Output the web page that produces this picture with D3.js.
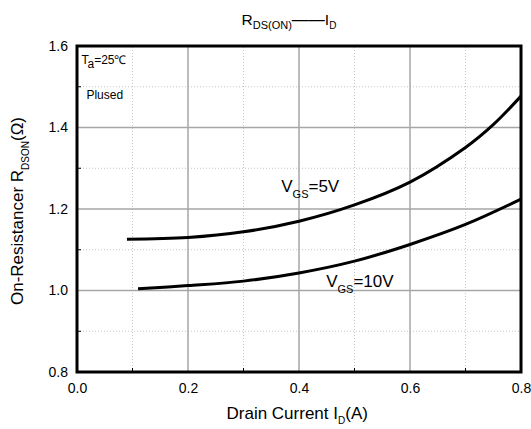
<!DOCTYPE html>
<html>
<head>
<meta charset="utf-8">
<script src="https://cdn.jsdelivr.net/npm/d3@7"></script>
<style>
  body { margin: 0; background: #fff; }
  svg { display: block; font-family: "Liberation Sans", Arial, sans-serif; }
</style>
</head>
<body>
<div id="chart"></div>
<script>
// curve readings, Id in A, Rds(on) in ohm
const id5 = [0.09, 0.2, 0.3, 0.4, 0.5, 0.6, 0.7, 0.75, 0.8];
const r5 = [1.126, 1.130, 1.144, 1.170, 1.210, 1.266, 1.351, 1.407, 1.477];
const id10 = [0.11, 0.2, 0.3, 0.4, 0.5, 0.6, 0.7, 0.8];
const r10 = [1.004, 1.012, 1.023, 1.043, 1.072, 1.113, 1.162, 1.224];

const xTicks = [0, 0.2, 0.4, 0.6, 0.8];
const yTicks = [0.8, 1.0, 1.2, 1.4, 1.6];
const xMinor = [0.1, 0.3, 0.5, 0.7];
const yMinor = [0.9, 1.1, 1.3, 1.5];

const width = 531, height = 429;
const margin = { top: 46, right: 10, bottom: 57, left: 77 };

const svg = d3.select("#chart").append("svg")
  .attr("width", width)
  .attr("height", height);

const x = d3.scaleLinear().domain([0, 0.8]).range([margin.left, width - margin.right]);
const y = d3.scaleLinear().domain([0.8, 1.6]).range([height - margin.bottom, margin.top]);

// minor dotted grid
svg.append("g").selectAll("line.vx")
  .data(xMinor).join("line")
  .attr("x1", d => x(d)).attr("x2", d => x(d))
  .attr("y1", y(0.8)).attr("y2", y(1.6))
  .attr("stroke", "#c4c4c4").attr("stroke-width", 1).attr("stroke-dasharray", "1,2");
svg.append("g").selectAll("line.hy")
  .data(yMinor).join("line")
  .attr("x1", x(0)).attr("x2", x(0.8))
  .attr("y1", d => y(d)).attr("y2", d => y(d))
  .attr("stroke", "#c4c4c4").attr("stroke-width", 1).attr("stroke-dasharray", "1,2");

// major grid
svg.append("g").selectAll("line")
  .data(xTicks.slice(1, -1)).join("line")
  .attr("x1", d => x(d)).attr("x2", d => x(d))
  .attr("y1", y(0.8)).attr("y2", y(1.6))
  .attr("stroke", "#a6a6a6").attr("stroke-width", 1.5);
svg.append("g").selectAll("line")
  .data(yTicks.slice(1, -1)).join("line")
  .attr("x1", x(0)).attr("x2", x(0.8))
  .attr("y1", d => y(d)).attr("y2", d => y(d))
  .attr("stroke", "#a6a6a6").attr("stroke-width", 1.5);

// axes (labels only)
const xAxis = svg.append("g")
  .attr("transform", `translate(0,${y(0.8)})`)
  .call(d3.axisBottom(x).tickValues(xTicks).tickFormat(d3.format(".1f")).tickSize(0).tickPadding(11));
const yAxis = svg.append("g")
  .attr("transform", `translate(${x(0)},0)`)
  .call(d3.axisLeft(y).tickValues(yTicks).tickFormat(d3.format(".1f")).tickSize(0).tickPadding(9));
[xAxis, yAxis].forEach(a => {
  a.select(".domain").remove();
  a.selectAll("text")
    .attr("font-family", "Liberation Sans, Arial, sans-serif")
    .attr("font-size", 14).attr("fill", "#000");
});

// small inner ticks
svg.append("g").selectAll("line")
  .data(xMinor).join("line")
  .attr("x1", d => x(d)).attr("x2", d => x(d))
  .attr("y1", y(0.8)).attr("y2", y(0.8) - 4)
  .attr("stroke", "#000").attr("stroke-width", 1);
svg.append("g").selectAll("line")
  .data(yMinor).join("line")
  .attr("x1", x(0)).attr("x2", x(0) + 4)
  .attr("y1", d => y(d)).attr("y2", d => y(d))
  .attr("stroke", "#000").attr("stroke-width", 1);

// frame
svg.append("rect")
  .attr("x", x(0)).attr("y", y(1.6))
  .attr("width", x(0.8) - x(0)).attr("height", y(0.8) - y(1.6))
  .attr("fill", "none").attr("stroke", "#000").attr("stroke-width", 3);

// curves
const line = d3.line()
  .x(d => x(d[0]))
  .y(d => y(d[1]))
  .curve(d3.curveCatmullRom.alpha(0.5));

svg.append("path")
  .datum(d3.zip(id5, r5))
  .attr("d", line)
  .attr("fill", "none").attr("stroke", "#000").attr("stroke-width", 3);
svg.append("path")
  .datum(d3.zip(id10, r10))
  .attr("d", line)
  .attr("fill", "none").attr("stroke", "#000").attr("stroke-width", 3);

// curve labels
function subLabel(px, py, main, sub, rest, size, subSize, shift) {
  const t = svg.append("text").attr("x", px).attr("y", py).attr("font-size", size);
  t.append("tspan").text(main);
  t.append("tspan").attr("font-size", subSize).attr("dy", shift).text(sub);
  t.append("tspan").attr("dy", -shift).text(rest);
  return t;
}
subLabel(x(0.368), y(1.242), "V", "GS", "=5V", 17, 11, 6);
subLabel(x(0.449), y(1.009), "V", "GS", "=10V", 17, 11, 6);

// conditions
subLabel(x(0.008), y(1.555), "T", "a", "=25\u2103", 12, 12, 4);
svg.append("text")
  .attr("x", x(0.017)).attr("y", y(1.469))
  .attr("font-size", 12).text("Plused");

// title
const title = svg.append("text").attr("x", 241.5).attr("y", 25).attr("font-size", 15.5);
title.append("tspan").text("R");
title.append("tspan").attr("font-size", 11).attr("dy", 4).text("DS(ON)");
title.append("tspan").attr("font-size", 16.5).attr("dy", -4).text("\u2014\u2014");
title.append("tspan").text("I");
title.append("tspan").attr("font-size", 10).attr("dy", 4).text("D");

// axis titles
const xt = svg.append("text").attr("x", 226.5).attr("y", 419).attr("font-size", 17);
xt.append("tspan").text("Drain Current I");
xt.append("tspan").attr("font-size", 10).attr("dy", 5).text("D");
xt.append("tspan").attr("dy", -5).text("(A)");

const yt = svg.append("text")
  .attr("transform", `translate(23,${(y(0.8) + y(1.6)) / 2 + 2})rotate(-90)`)
  .attr("text-anchor", "middle")
  .attr("font-size", 17);
yt.append("tspan").text("On-Resistancer R");
yt.append("tspan").attr("font-size", 10).attr("dy", 6).text("DSON");
yt.append("tspan").attr("dy", -6).text("(\u03A9)");
</script>
</body>
</html>
